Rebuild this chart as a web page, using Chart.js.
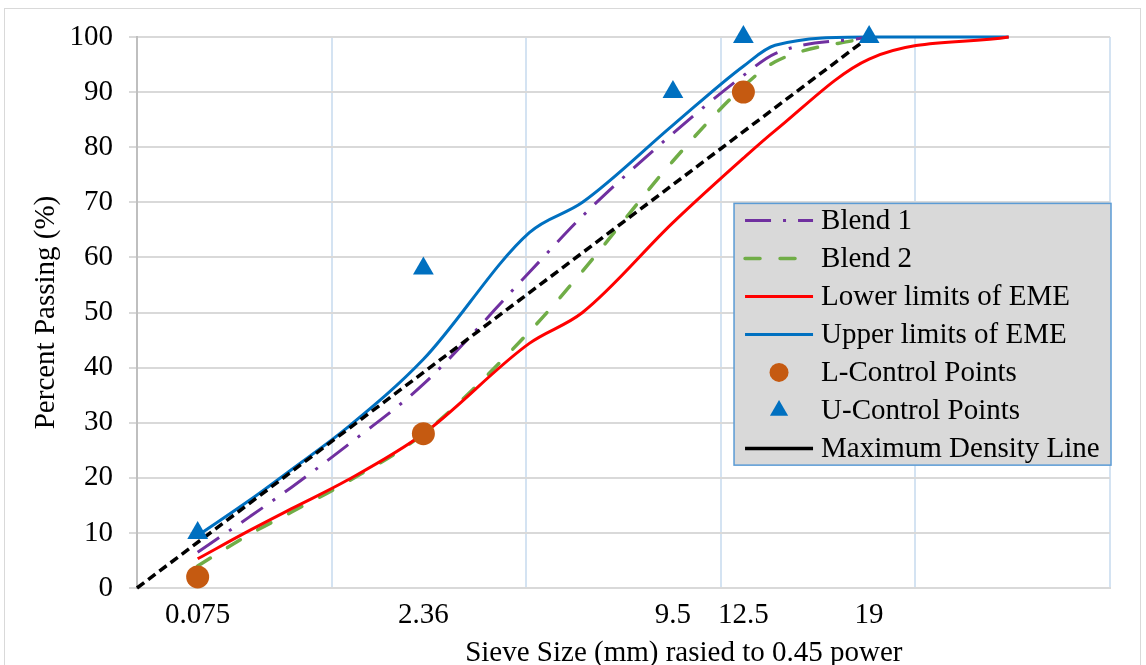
<!DOCTYPE html>
<html>
<head>
<meta charset="utf-8">
<script src="https://cdn.jsdelivr.net/npm/chart.js@4.4.1/dist/chart.umd.min.js"></script>
<style>
  body { margin: 0; background: #fff; }
  #wrap { position: relative; width: 1146px; height: 665px; overflow: hidden; }
  #frame { position: absolute; left: 4px; top: 8px; width: 1135px; height: 700px; border: 1px solid #d9d9d9; }
  #c { position: absolute; left: 0; top: 0; }
</style>
</head>
<body>
<div id="wrap">
  <div id="frame"></div>
  <canvas id="c" width="1146" height="665"></canvas>
</div>
<script>
// gradation chart, x = sieve size ^ 0.45

const sieves = [0.075, 0.3, 0.6, 1.18, 2.36, 4.75, 6.3, 9.5, 12.5, 14, 19, 28]
const blend1 = [6.5, 13, 18.3, 25.8, 37, 57.3, 67.5, 82.5, 93, 97, 100, null]
const blend2 = [4, 9.8, 13.8, 19.2, 28, 46.5, 57.5, 77.5, 91, 95.5, 100, null]
const lowerEME = [5.3, 10.5, 14.4, 19.5, 28, 44.4, 50, 66.3, 78, 83, 96, 100]
const upperEME = [9.5, 16, 21.5, 29, 41.5, 64.5, 70, 84, 94.7, 98.5, 100, 100]

const lSizes = [0.075, 2.36, 12.5]
const lPoints = [2, 28, 90]
const uSizes = [0.075, 2.36, 9.5, 12.5, 19]
const uPoints = [10, 58, 90, 100, 100]

const mdlSizes = [0, 19]
const mdlPassing = [0, 100]

const tickSizes = [0.075, 2.36, 9.5, 12.5, 19]
const gridSteps = [0, 1, 2, 3, 4, 5]

const POW = 0.45
const FONT = '"Liberation Serif", "Times New Roman", serif'

function pts(sizes, vals) {
  let out = []
  for (let i = 0; i < sizes.length; i++) {
    if (vals[i] == null) continue
    out.push({x: Math.pow(sizes[i], POW), y: vals[i]})
  }
  return out
}

function lineSet(label, sizes, vals, color, dash, width, cap, order) {
  return {
    type: 'line', label: label, data: pts(sizes, vals),
    borderColor: color, backgroundColor: color, borderWidth: width,
    borderDash: dash, borderCapStyle: cap, pointRadius: 0,
    cubicInterpolationMode: 'monotone', clip: false, order: order
  }
}

const datasets = [
  lineSet('Blend 1', sieves, blend1, '#7030a0', [26, 12, 3, 12], 3, 'butt', 2),
  lineSet('Blend 2', sieves, blend2, '#70ad47', [15, 20], 3.5, 'round', 4),
  lineSet('Lower limits of EME', sieves, lowerEME, '#ff0000', [], 3, 'butt', 3),
  lineSet('Upper limits of EME', sieves, upperEME, '#0070c0', [], 3, 'butt', 5),
  {
    type: 'scatter', label: 'L-Control Points', data: pts(lSizes, lPoints),
    backgroundColor: '#c55a11', borderColor: '#c55a11', pointStyle: 'circle',
    pointRadius: 11.5, pointHoverRadius: 11.5, borderWidth: 0, clip: false, order: 0
  },
  {
    type: 'scatter', label: 'U-Control Points', data: pts(uSizes, uPoints),
    backgroundColor: '#0070c0', borderColor: '#0070c0', pointStyle: 'triangle',
    pointRadius: 12, pointHoverRadius: 12, borderWidth: 0, clip: false, order: 0
  },
  Object.assign(lineSet('Maximum Density Line', mdlSizes, mdlPassing, '#000000', [9, 5], 3.5, 'butt', 1),
    {cubicInterpolationMode: 'default', tension: 0})
]

const tickPos = tickSizes.map(s => Math.pow(s, POW))

function isGrid(v) {
  return gridSteps.some(g => Math.abs(g - v) < 1e-9)
}

// legend box with grey fill, drawn over the grid
const legendBox = {
  id: 'legendBox',
  afterDraw(chart) {
    const ctx = chart.ctx
    const xs = chart.scales.x, ys = chart.scales.y
    const left = xs.getPixelForValue(3.068)
    const right = chart.chartArea.right + 1
    const top = ys.getPixelForValue(69.8)
    const bottom = ys.getPixelForValue(22.3)
    ctx.save()
    ctx.fillStyle = '#d9d9d9'
    ctx.fillRect(left, top, right - left, bottom - top)
    ctx.strokeStyle = '#5b9bd5'
    ctx.lineWidth = 1.5
    ctx.strokeRect(left, top, right - left, bottom - top)

    ctx.font = '29px ' + FONT
    ctx.textBaseline = 'middle'
    ctx.textAlign = 'left'
    const x0 = left + 11, x1 = left + 79, xc = (x0 + x1) / 2
    chart.data.datasets.forEach((ds, i) => {
      const y = top + 17 + i * 38
      ctx.save()
      if (ds.type === 'scatter') {
        ctx.fillStyle = ds.backgroundColor
        ctx.beginPath()
        if (ds.pointStyle === 'circle') {
          ctx.arc(xc, y, 9.5, 0, Math.PI * 2)
        } else {
          const r = 10.5
          ctx.moveTo(xc, y - r)
          ctx.lineTo(xc + r * 0.866, y + r * 0.5)
          ctx.lineTo(xc - r * 0.866, y + r * 0.5)
          ctx.closePath()
        }
        ctx.fill()
      } else {
        ctx.strokeStyle = ds.borderColor
        ctx.lineWidth = ds.borderWidth
        ctx.lineCap = ds.borderCapStyle
        // excel shows the density line solid in the legend
        ctx.setLineDash(ds.label === 'Maximum Density Line' ? [] : ds.borderDash)
        ctx.beginPath()
        ctx.moveTo(x0, y)
        ctx.lineTo(x1, y)
        ctx.stroke()
      }
      ctx.restore()
      ctx.fillStyle = '#000'
      ctx.fillText(ds.label, left + 87, y + 1)
    })

    // x axis title, sits right of centre in the original
    ctx.textAlign = 'center'
    ctx.fillText('Sieve Size (mm) rasied to 0.45 power', xs.getPixelForValue(2.81), chart.chartArea.bottom + 65)
    ctx.restore()
  }
}

new Chart(document.getElementById('c'), {
  data: {datasets: datasets},
  options: {
    responsive: false,
    animation: false,
    layout: {padding: {left: 0, right: 36, top: 37, bottom: 0}},
    plugins: {legend: {display: false}, tooltip: {enabled: false}},
    scales: {
      x: {
        type: 'linear', min: 0, max: 5,
        afterBuildTicks(scale) {
          const vals = gridSteps.concat(tickPos).sort((a, b) => a - b)
          scale.ticks = vals.map(v => ({value: v}))
        },
        afterFit(scale) { scale.height = 77 },
        grid: {
          drawTicks: false, lineWidth: 2,
          color: c => (c.tick && isGrid(c.tick.value)) ? '#d4e3f2' : 'rgba(0,0,0,0)'
        },
        border: {display: true, color: '#d9d9d9', width: 2},
        ticks: {
          autoSkip: false, maxRotation: 0, padding: 10, color: '#000',
          font: {family: FONT, size: 29},
          callback: v => {
            const i = tickPos.findIndex(p => Math.abs(p - v) < 1e-9)
            return i >= 0 ? String(tickSizes[i]) : ''
          }
        }
      },
      y: {
        type: 'linear', min: 0, max: 100,
        afterFit(scale) { scale.width = 137 },
        grid: {color: '#d9d9d9', lineWidth: 2, tickLength: 8},
        border: {display: true, color: '#bfbfbf', width: 2},
        ticks: {stepSize: 10, padding: 16, color: '#000', font: {family: FONT, size: 29}},
        title: {
          display: true, text: 'Percent Passing (%)', color: '#000',
          font: {family: FONT, size: 29}, padding: {top: 29, bottom: 0}
        }
      }
    }
  },
  plugins: [legendBox]
})
</script>
</body>
</html>
